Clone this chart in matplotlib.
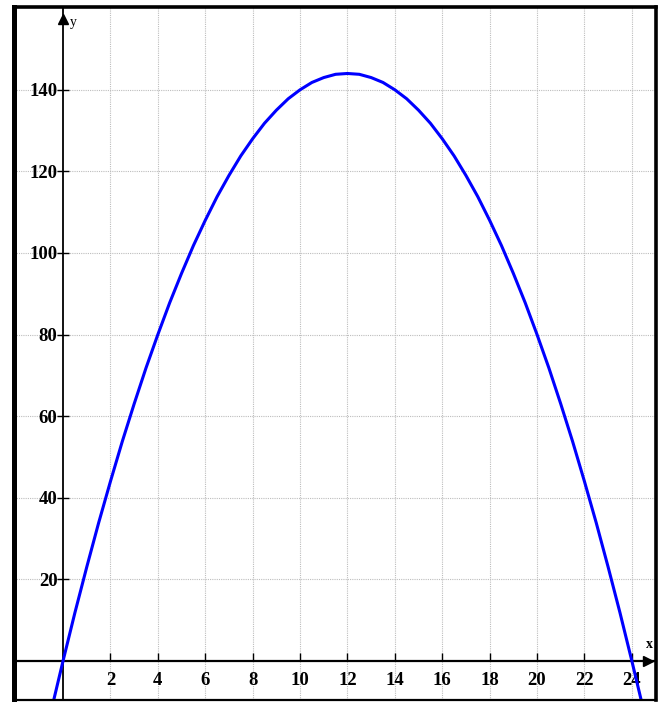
import matplotlib.pyplot as plt

# points (x, y)
xs = [-0.5, -0.25, 0, 0.25, 0.5, 0.75, 1, 1.5, 2, 2.5, 3, 3.5, 4, 4.5, 5, 5.5, 6, 6.5,
      7, 7.5, 8, 8.5, 9, 9.5, 10, 10.5, 11, 11.5, 12, 12.5, 13, 13.5, 14, 14.5, 15,
      15.5, 16, 16.5, 17, 17.5, 18, 18.5, 19, 19.5, 20, 20.5, 21, 21.5, 22, 22.5,
      23, 23.5, 24, 24.5]
ys = [-12.2, -6.1, 0, 5.9, 11.8, 17.4, 23, 33.8, 44, 53.8, 63, 71.8, 80, 87.8, 95,
      101.8, 108, 113.8, 119, 123.8, 128, 131.8, 135, 137.8, 140, 141.8, 143, 143.8,
      144, 143.8, 143, 141.8, 140, 137.8, 135, 131.8, 128, 123.8, 119, 113.8, 108,
      101.8, 95, 87.8, 80, 71.8, 63, 53.8, 44, 33.8, 23, 11.8, 0, -12.2]
xticks = [2, 4, 6, 8, 10, 12, 14, 16, 18, 20, 22, 24]
yticks = [20, 40, 60, 80, 100, 120, 140]

plt.rcParams['font.family'] = 'Liberation Serif'

fig = plt.figure(figsize=(6.62, 7.02), dpi=100)
ax = fig.add_axes([14 / 662, 2 / 702, 642 / 662, 693 / 702])
ax.set_xlim(-2.07, 25.02)
ax.set_ylim(-9.6, 160.3)

# grid
for gx in xticks:
    ax.axvline(gx, color='#bdbdbd', lw=0.8, ls=(0, (1, 1)), zorder=0)
for gy in yticks:
    ax.axhline(gy, color='#bdbdbd', lw=0.8, ls=(0, (1, 1)), zorder=0)

# axes through origin
ax.spines['top'].set_visible(False)
ax.spines['right'].set_visible(False)
ax.spines['left'].set_position(('data', 0))
ax.spines['bottom'].set_position(('data', 0))
ax.spines['left'].set_linewidth(1.3)
ax.spines['bottom'].set_linewidth(1.6)

ax.set_xticks(xticks)
ax.set_yticks(yticks)
ax.tick_params(axis='x', direction='in', length=6, width=1, pad=8, labelsize=13.5)
ax.tick_params(axis='y', direction='inout', length=8, width=1, pad=0, labelsize=13.5)
for lab in ax.get_xticklabels() + ax.get_yticklabels():
    lab.set_fontweight('bold')

# arrows
ax.plot(0.988, 0, '>', color='black', ms=7, transform=ax.get_yaxis_transform(), clip_on=False)
ax.plot(0, 0.982, '^', color='black', ms=7, transform=ax.get_xaxis_transform(), clip_on=False)
ax.text(24.75, 2.5, 'x', fontsize=10, fontweight='bold', ha='center', va='bottom')
ax.text(0.3, 156.5, 'y', fontsize=10, ha='left', va='center')

ax.plot(xs, ys, color='#0000ff', lw=2.2, zorder=3)

# outer frame (left edge heavier)
frame = [((0, 0), (0, 1), 3.6), ((0, 1), (1, 1), 2.6), ((1, 1), (1, 0), 2.6), ((0, 1), (0, 0), 3.6),
         ((0, 0), (1, 0), 1.6)]
for (x0, y0), (x1, y1), w in frame:
    ax.plot([x0, x1], [y0, y1], color='black', lw=w, transform=ax.transAxes,
            clip_on=False, solid_capstyle='projecting', zorder=5)

fig.savefig('out.png', dpi=100)
